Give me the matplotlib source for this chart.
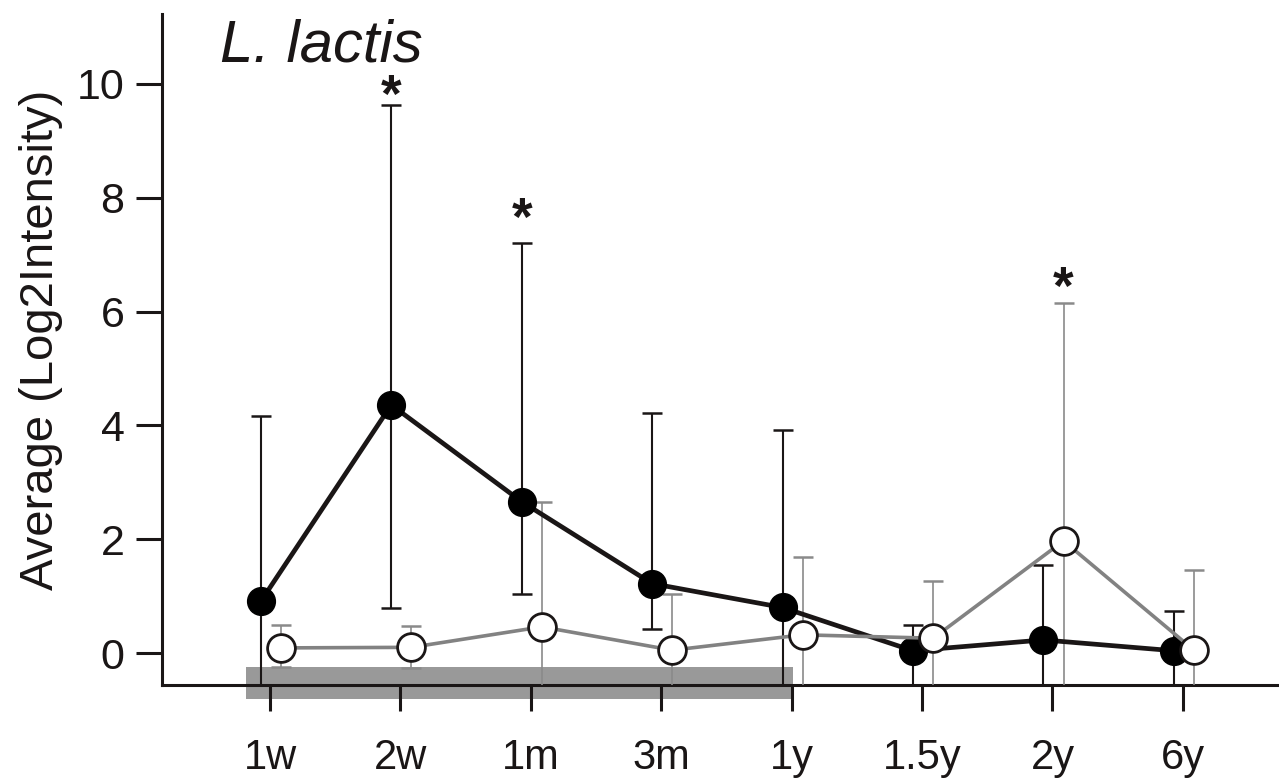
import matplotlib
matplotlib.use("Agg")
import matplotlib.pyplot as plt
from matplotlib.patches import Rectangle
import numpy as np

plt.rcParams["font.family"] = ["Liberation Sans", "DejaVu Sans"]

# time points
LABELS = ["1w", "2w", "1m", "3m", "1y", "1.5y", "2y", "6y"]

# filled (black) series: mean, lower end, upper end of error bar
BLACK_MEAN = [0.91, 4.36, 2.66, 1.22, 0.80, 0.04, 0.23, 0.04]
BLACK_LO = [-2.4, 0.79, 1.04, 0.42, -0.56, -0.9, -0.9, -0.9]
BLACK_HI = [4.17, 9.63, 7.20, 4.22, 3.92, 0.50, 1.55, 0.73]

# open (white) series
WHITE_MEAN = [0.09, 0.10, 0.46, 0.05, 0.32, 0.26, 1.97, 0.05]
WHITE_LO = [-0.24, -0.26, -0.9, -0.9, -0.9, -0.9, -0.9, -0.9]
WHITE_HI = [0.49, 0.47, 2.66, 1.03, 1.69, 1.26, 6.15, 1.46]

# significance marks: time point index, series, height of the star
STAR_IDX = [1, 2, 6]
STAR_SERIES = ["black", "black", "white"]
STAR_Y = [9.93, 7.77, 6.56]

BLACK = "#1a1616"
GREY = "#828282"

fig = plt.figure(figsize=(12.79, 7.84), dpi=100)
ax = fig.add_axes([162 / 1279, 99 / 784, 1 - 162 / 1279, 671 / 784])

x = np.arange(1, len(LABELS) + 1)
xb = x - 0.07
xw = x + 0.085

bm = np.array(BLACK_MEAN)
wm = np.array(WHITE_MEAN)

# grey bar under the first period
ax.add_patch(Rectangle((0.816, -0.81), 5.01 - 0.816, 0.56, facecolor="#999999",
                       edgecolor="none", clip_on=False, zorder=1))

ax.errorbar(xb, bm, yerr=[bm - np.array(BLACK_LO), np.array(BLACK_HI) - bm],
            fmt="none", ecolor=BLACK, elinewidth=1.5, capsize=7.5, capthick=1.8,
            zorder=3)
ax.errorbar(xw, wm, yerr=[wm - np.array(WHITE_LO), np.array(WHITE_HI) - wm],
            fmt="none", ecolor="#8a8a8a", elinewidth=1.2, capsize=7.5, capthick=1.8,
            zorder=3)

ax.plot(xb, bm, "-", color=BLACK, lw=3.4, zorder=4)
ax.plot(xb, bm, "o", color="black", ms=20, mec="black", mew=1, zorder=5)
ax.plot(xw, wm, "-", color=GREY, lw=2.6, zorder=6)
ax.plot(xw, wm, "o", mfc="white", mec=BLACK, ms=20, mew=2, zorder=7)

fs_star = 38
for i, s, ys in zip(STAR_IDX, STAR_SERIES, STAR_Y):
    xs = xb[i] if s == "black" else xw[i]
    ax.annotate("*", (xs, ys), xytext=(0, -0.45 * fs_star), textcoords="offset points",
                ha="center", va="baseline", fontsize=fs_star, fontweight="bold",
                color=BLACK, zorder=8)

ax.set_xlim(0.172, 8.737)
ax.set_ylim(-0.562, 11.23)
ax.set_xticks(x)
ax.set_xticklabels(LABELS)
ax.set_yticks([0, 2, 4, 6, 8, 10])

for side in ["top", "right"]:
    ax.spines[side].set_visible(False)
for side in ["left", "bottom"]:
    ax.spines[side].set_linewidth(2.2)
    ax.spines[side].set_color(BLACK)
    ax.spines[side].set_zorder(2.5)

ax.tick_params(axis="both", direction="out", length=19, width=2.2, color=BLACK,
               labelcolor=BLACK)
ax.tick_params(axis="y", labelsize=31, pad=8)
ax.tick_params(axis="x", labelsize=30, pad=19)

fig.text(41 / 1279, 1 - 340 / 784, "Average (Log2Intensity)", rotation=90,
         ha="center", va="center", fontsize=34, color=BLACK)
fig.text(220 / 1279, 1 - 61 / 784, "L. lactis", style="italic",
         ha="left", va="baseline", fontsize=43, color=BLACK)

fig.savefig("out.png", dpi=100)
